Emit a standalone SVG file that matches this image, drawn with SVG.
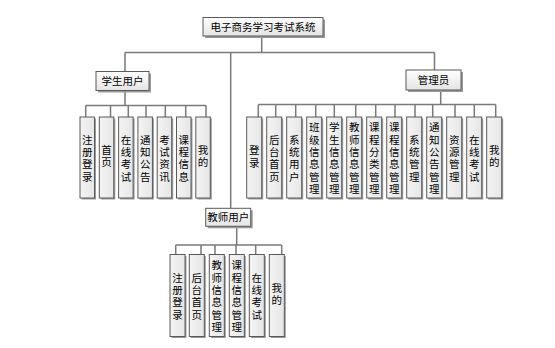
<svg xmlns="http://www.w3.org/2000/svg" width="555" height="348" viewBox="0 0 555 348">
<defs>
<linearGradient id="g" x1="0" y1="0" x2="0" y2="1">
<stop offset="0" stop-color="#ffffff"/>
<stop offset="1" stop-color="#e4e4e4"/>
</linearGradient>
<linearGradient id="gh" x1="0" y1="0" x2="1" y2="0">
<stop offset="0" stop-color="#f4f4f4"/>
<stop offset="1" stop-color="#e6e6e6"/>
</linearGradient>
</defs>
<style>
.b{fill:url(#g);stroke:#5a5a5a;stroke-width:1}
.v{fill:url(#gh);stroke:#5a5a5a;stroke-width:1}
.s{fill:#9a9a9a}
.c{fill:none;stroke:#7a7a7a;stroke-width:1.5}
text{font-family:"Noto Sans CJK SC","Liberation Sans",sans-serif;font-size:10.5px;fill:#000;text-anchor:middle}
.vt{writing-mode:vertical-rl;text-orientation:upright;letter-spacing:1.8px}
</style>
<rect width="555" height="348" fill="#fff"/>
<g id="connectors">
<path class="c" d="M261.7 36V52.5M125 52.5H434.5M125 52.5V71.5M434.5 52.5V70M230.7 52.5V208.3"/>
<path class="c" d="M125 90.5V105.5M85.7 105.5H206M85.7 105.5V117M110.5 105.5V117M128.3 105.5V117M146 105.5V117M165.3 105.5V117M185.7 105.5V117M206 105.5V117"/>
<path class="c" d="M440.7 90V104.5M258.3 104.5H495.7M258.3 104.5V117M275.7 104.5V117M295.7 104.5V117M315.7 104.5V117M334.3 104.5V117M355.7 104.5V117M375.7 104.5V117M395 104.5V117M415 104.5V117M432.7 104.5V117M455 104.5V117M474.3 104.5V117M495.7 104.5V117"/>
<path class="c" d="M236.7 226.5V245M175.7 245H281.7M175.7 245V254.5M201 245V254.5M215 245V254.5M236 245V254.5M255.7 245V254.5M281.7 245V254.5"/>
</g>
<g id="root"><rect class="s" x="205" y="19.5" width="120" height="18.5"/><rect class="b" x="203" y="17.5" width="120" height="18.5"/><text x="263" y="30.5">电子商务学习考试系统</text></g>
<g id="student"><rect class="s" x="98" y="73.5" width="53" height="19"/><rect class="b" x="96" y="71.5" width="53" height="19"/><text x="122.5" y="84.8">学生用户</text></g>
<g id="admin"><rect class="s" x="408" y="72" width="55" height="20"/><rect class="b" x="406" y="70" width="55" height="20"/><text x="433.5" y="83.8">管理员</text></g>
<g id="teacher"><rect class="s" x="207.7" y="210.3" width="45" height="18"/><rect class="b" x="205.7" y="208.3" width="45" height="18"/><text x="228.2" y="221.2">教师用户</text></g>

<g id="s1"><rect class="s" x="81.5" y="118.5" width="14.5" height="81"/><rect class="v" x="80" y="117" width="14.5" height="81"/><text class="vt" x="87.3" y="159">注册登录</text></g>
<g id="s2"><rect class="s" x="100.8" y="118.5" width="14.5" height="81"/><rect class="v" x="99.3" y="117" width="14.5" height="81"/><text class="vt" x="106.6" y="157">首页</text></g>
<g id="s3"><rect class="s" x="120.1" y="118.5" width="14.5" height="81"/><rect class="v" x="118.6" y="117" width="14.5" height="81"/><text class="vt" x="125.9" y="159">在线考试</text></g>
<g id="s4"><rect class="s" x="139.4" y="118.5" width="14.5" height="81"/><rect class="v" x="137.9" y="117" width="14.5" height="81"/><text class="vt" x="145.2" y="159">通知公告</text></g>
<g id="s5"><rect class="s" x="158.7" y="118.5" width="14.5" height="81"/><rect class="v" x="157.2" y="117" width="14.5" height="81"/><text class="vt" x="164.5" y="159">考试资讯</text></g>
<g id="s6"><rect class="s" x="178" y="118.5" width="14.5" height="81"/><rect class="v" x="176.5" y="117" width="14.5" height="81"/><text class="vt" x="183.8" y="159">课程信息</text></g>
<g id="s7"><rect class="s" x="197.3" y="118.5" width="14.5" height="81"/><rect class="v" x="195.8" y="117" width="14.5" height="81"/><text class="vt" x="203.1" y="157">我的</text></g>

<g id="a1"><rect class="s" x="248.2" y="118.5" width="15" height="81"/><rect class="v" x="246.7" y="117" width="15" height="81"/><text class="vt" x="254.2" y="157.5">登录</text></g>
<g id="a2"><rect class="s" x="268.2" y="118.5" width="15" height="81"/><rect class="v" x="266.7" y="117" width="15" height="81"/><text class="vt" x="274.2" y="159">后台首页</text></g>
<g id="a3"><rect class="s" x="288.2" y="118.5" width="15" height="81"/><rect class="v" x="286.7" y="117" width="15" height="81"/><text class="vt" x="294.2" y="159">系统用户</text></g>
<g id="a4"><rect class="s" x="308.2" y="118.5" width="15" height="81"/><rect class="v" x="306.7" y="117" width="15" height="81"/><text class="vt" x="314.2" y="159">班级信息管理</text></g>
<g id="a5"><rect class="s" x="328.2" y="118.5" width="15" height="81"/><rect class="v" x="326.7" y="117" width="15" height="81"/><text class="vt" x="334.2" y="159">学生信息管理</text></g>
<g id="a6"><rect class="s" x="348.2" y="118.5" width="15" height="81"/><rect class="v" x="346.7" y="117" width="15" height="81"/><text class="vt" x="354.2" y="159">教师信息管理</text></g>
<g id="a7"><rect class="s" x="368.2" y="118.5" width="15" height="81"/><rect class="v" x="366.7" y="117" width="15" height="81"/><text class="vt" x="374.2" y="159">课程分类管理</text></g>
<g id="a8"><rect class="s" x="388.2" y="118.5" width="15" height="81"/><rect class="v" x="386.7" y="117" width="15" height="81"/><text class="vt" x="394.2" y="159">课程信息管理</text></g>
<g id="a9"><rect class="s" x="408.2" y="118.5" width="15" height="81"/><rect class="v" x="406.7" y="117" width="15" height="81"/><text class="vt" x="414.2" y="159">系统管理</text></g>
<g id="a10"><rect class="s" x="428.2" y="118.5" width="15" height="81"/><rect class="v" x="426.7" y="117" width="15" height="81"/><text class="vt" x="434.2" y="159">通知公告管理</text></g>
<g id="a11"><rect class="s" x="448.2" y="118.5" width="15" height="81"/><rect class="v" x="446.7" y="117" width="15" height="81"/><text class="vt" x="454.2" y="159">资源管理</text></g>
<g id="a12"><rect class="s" x="468.2" y="118.5" width="15" height="81"/><rect class="v" x="466.7" y="117" width="15" height="81"/><text class="vt" x="474.2" y="159">在线考试</text></g>
<g id="a13"><rect class="s" x="488.2" y="118.5" width="15" height="81"/><rect class="v" x="486.7" y="117" width="15" height="81"/><text class="vt" x="494.2" y="157">我的</text></g>

<g id="t1"><rect class="s" x="171.5" y="256" width="15" height="82"/><rect class="v" x="170" y="254.5" width="15" height="82"/><text class="vt" x="177.5" y="297">注册登录</text></g>
<g id="t2"><rect class="s" x="190.8" y="256" width="15" height="82"/><rect class="v" x="189.3" y="254.5" width="15" height="82"/><text class="vt" x="196.8" y="297">后台首页</text></g>
<g id="t3"><rect class="s" x="210.8" y="256" width="15" height="82"/><rect class="v" x="209.3" y="254.5" width="15" height="82"/><text class="vt" x="216.8" y="297">教师信息管理</text></g>
<g id="t4"><rect class="s" x="230.8" y="256" width="15" height="82"/><rect class="v" x="229.3" y="254.5" width="15" height="82"/><text class="vt" x="236.8" y="297">课程信息管理</text></g>
<g id="t5"><rect class="s" x="250.8" y="256" width="15" height="82"/><rect class="v" x="249.3" y="254.5" width="15" height="82"/><text class="vt" x="256.8" y="297">在线考试</text></g>
<g id="t6"><rect class="s" x="270.8" y="256" width="15" height="82"/><rect class="v" x="269.3" y="254.5" width="15" height="82"/><text class="vt" x="276.8" y="295">我的</text></g>
</svg>
